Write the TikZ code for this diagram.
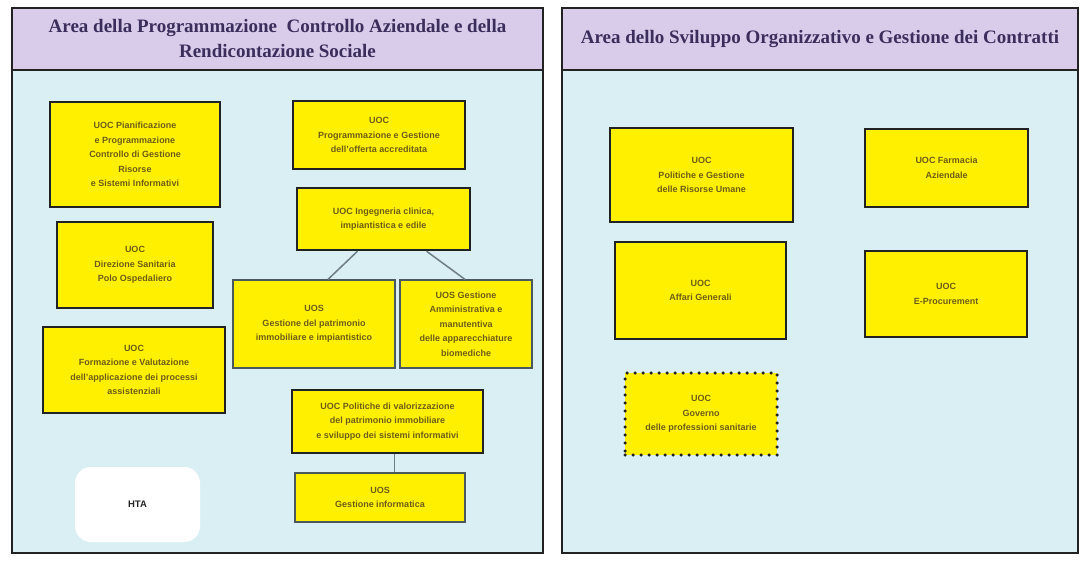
\documentclass[tikz,border=0pt]{standalone}
\usepackage{fontspec}
\setmainfont{Liberation Serif}
\setsansfont{Liberation Sans}
\usetikzlibrary{positioning}

\definecolor{areaviola}{HTML}{D8CCEA}
\definecolor{areaciano}{HTML}{DAEFF3}
\definecolor{uocgiallo}{HTML}{FFF000}
\definecolor{uoctesto}{HTML}{6E5E16}
\definecolor{areatesto}{HTML}{3C2E5C}
\definecolor{bordo}{HTML}{222222}
\definecolor{linea}{HTML}{6E7E84}

\begin{document}
\begin{tikzpicture}[x=1pt,y=-1pt,
  areabody/.style={draw=bordo,line width=2.4pt,fill=areaciano,inner sep=0pt},
  areahead/.style={draw=bordo,line width=2.4pt,fill=areaviola,align=center,inner sep=0pt,
    text=areatesto,font=\bfseries\fontsize{19}{25}\selectfont},
  uoc/.style={draw=bordo,line width=2.4pt,fill=uocgiallo,align=center,inner sep=2pt,
    text=uoctesto,font=\sffamily\bfseries\fontsize{9}{14.5}\selectfont},
  uocthin/.style={uoc,draw=linea!70!black,line width=1.2pt},
  uocdots/.style={uoc,draw=bordo,line width=3.5pt,dash pattern=on 0pt off 8pt,line cap=round},
  hta/.style={fill=white,rounded corners=16pt,inner sep=0pt,text=bordo,
    font=\sffamily\bfseries\fontsize{9.5}{11}\selectfont},
  link/.style={draw=linea,line width=1.5pt}]
  \useasboundingbox[fill=white] (0,0) rectangle (1081,562);

  % area sinistra
  \node[areabody,minimum width=531,minimum height=483] (bodyL) at (277.5,311.5) {};
  \node[areahead,minimum width=531,minimum height=62] (headL) at (277.5,39)
    {Area della Programmazione\ \ Controllo Aziendale e della\\Rendicontazione Sociale};

  \node[uoc,minimum width=170,minimum height=105] (pian) at (135,154.5)
    {UOC Pianificazione\\e Programmazione\\Controllo di Gestione\\Risorse\\e Sistemi Informativi};
  \node[uoc,minimum width=172,minimum height=68] (prog) at (379,135)
    {UOC\\Programmazione e Gestione\\dell'offerta accreditata};
  \node[uoc,minimum width=173,minimum height=62] (ing) at (383.5,219)
    {UOC Ingegneria clinica,\\impiantistica e edile};
  \node[uoc,minimum width=156,minimum height=86] (dir) at (135,265)
    {UOC\\Direzione Sanitaria\\Polo Ospedaliero};
  \node[uocthin,minimum width=162,minimum height=88] (gpat) at (314,324)
    {UOS\\Gestione del patrimonio\\immobiliare e impiantistico};
  \node[uocthin,minimum width=132,minimum height=88] (gamm) at (466,324)
    {UOS Gestione\\Amministrativa e\\manutentiva\\delle apparecchiature\\biomediche};
  \node[uoc,minimum width=182,minimum height=86] (form) at (134,370)
    {UOC\\Formazione e Valutazione\\dell'applicazione dei processi\\assistenziali};
  \node[uoc,minimum width=191,minimum height=63] (valo) at (387.5,421.5)
    {UOC Politiche di valorizzazione\\del patrimonio immobiliare\\e sviluppo dei sistemi informativi};
  \node[uocthin,minimum width=170,minimum height=49] (info) at (380,497.5)
    {UOS\\Gestione informatica};
  \node[hta,minimum width=125,minimum height=75] (hta) at (137.5,504.5) {HTA};

  \draw[link] ([xshift=-26pt]ing.south) -- ([xshift=14pt]gpat.north);
  \draw[link] ([xshift=43pt]ing.south) -- ([xshift=-1pt]gamm.north);
  \draw[link] ([xshift=7pt]valo.south) -- ([xshift=7pt]valo.south |- info.north);

  % area destra
  \node[areabody,minimum width=516,minimum height=483] (bodyR) at (820,311.5) {};
  \node[areahead,minimum width=516,minimum height=62] (headR) at (820,39)
    {Area dello Sviluppo Organizzativo e Gestione dei Contratti};

  \node[uoc,minimum width=183,minimum height=94] (risu) at (701.5,175)
    {UOC\\Politiche e Gestione\\delle Risorse Umane};
  \node[uoc,minimum width=163,minimum height=78] (farm) at (946.5,168)
    {UOC Farmacia\\Aziendale};
  \node[uoc,minimum width=171,minimum height=97] (affa) at (700.5,290.5)
    {UOC\\Affari Generali};
  \node[uoc,minimum width=162,minimum height=86] (proc) at (946,294)
    {UOC\\E-Procurement};
  \node[uocdots,minimum width=152,minimum height=82] (gove) at (701,414)
    {UOC\\Governo\\delle professioni sanitarie};
\end{tikzpicture}
\end{document}
